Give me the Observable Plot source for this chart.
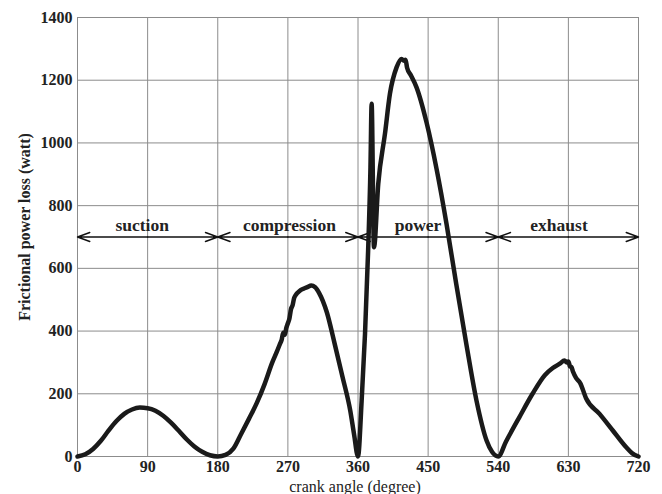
<!DOCTYPE html>
<html>
<head>
<meta charset="utf-8">
<script src="https://cdn.jsdelivr.net/npm/d3@7"></script>
<script src="https://cdn.jsdelivr.net/npm/@observablehq/plot@0.6"></script>
<style>
  html, body { margin: 0; padding: 0; background: #fff; }
</style>
</head>
<body>
<div id="chart"></div>
<script>
// crank angle (degree) and frictional power loss (watt)
const crankAngle = [
  0, 10, 20, 30, 40, 50, 60, 70, 80, 90, 100, 110, 120, 130, 140, 150, 160, 170, 180,
  190, 200, 210, 220, 230, 240, 250, 256, 260, 262, 264, 266, 268, 270, 272, 274, 276, 278, 280, 285, 290, 295, 300, 305, 310, 320, 330, 340, 350, 355, 360,
  364.7, 369, 373, 376, 377.5, 380.5, 386, 394.6, 401, 409.5, 416, 419, 421, 423, 428, 435, 448, 461, 473.6, 486, 499, 512, 525, 532, 540,
  550, 567, 584, 600, 610, 619, 625, 628, 630, 632, 634, 636, 640, 645, 653, 670, 687, 704, 712, 720
];
const powerLoss = [
  0, 7, 24, 50, 83, 113, 136, 150, 156, 154, 146, 130, 108, 82, 55, 32, 15, 4, 0,
  5, 25, 72, 120, 170, 230, 300, 335, 360, 372, 395, 388, 410, 425, 440, 470, 482, 505, 515, 528, 535, 540, 545, 540, 522, 460, 360, 255, 147, 70, 0,
  179, 391, 657, 922, 1125, 667, 870, 1029, 1157, 1241, 1268, 1262, 1265, 1240, 1215, 1178, 1065, 915, 742, 551, 359, 179, 51, 15, 0,
  48, 125, 200, 260, 282, 296, 306, 300, 303, 288, 285, 270, 250, 235, 184, 136, 83, 30, 10, 0
];

// stroke phases
const phaseNames = ["suction", "compression", "power", "exhaust"];
const phaseStart = [0, 180, 360, 540];
const phaseEnd = [180, 360, 540, 720];
const phaseLabelAngle = [83, 272, 437, 618];
const phaseLevel = 700;

// tick labels
const xTicks = [0, 90, 180, 270, 360, 450, 540, 630, 720];
const yTicks = [0, 200, 400, 600, 800, 1000, 1200, 1400];

const curve = crankAngle.map((a, i) => ({angle: a, loss: powerLoss[i]}));
const phases = phaseNames.map((name, i) => ({
  name, start: phaseStart[i], end: phaseEnd[i], labelAt: phaseLabelAngle[i],
  mid: (phaseStart[i] + phaseEnd[i]) / 2, level: phaseLevel
}));

const chart = Plot.plot({
  width: 662,
  height: 494,
  marginLeft: 77,
  marginRight: 24,
  marginTop: 17,
  marginBottom: 38,
  style: {
    fontFamily: "'Liberation Serif', 'DejaVu Serif', serif",
    fontSize: "16px",
    fontWeight: "bold",
    color: "#222",
    background: "#fff"
  },
  x: {domain: [0, 720], ticks: xTicks, label: null},
  y: {domain: [0, 1400], ticks: yTicks, label: null},
  marks: [
    Plot.gridX(xTicks, {stroke: "#8c8c8c", strokeOpacity: 1, strokeWidth: 1}),
    Plot.gridY(yTicks, {stroke: "#8c8c8c", strokeOpacity: 1, strokeWidth: 1}),
    Plot.frame({stroke: "#8c8c8c", strokeWidth: 1}),
    Plot.axisX(xTicks, {tickSize: 0, tickPadding: 4, fontSize: 16, fontWeight: "bold", tickFormat: d => String(d), label: null}),
    Plot.axisY(yTicks, {tickSize: 0, tickPadding: 5, fontSize: 16, fontWeight: "bold", tickFormat: d => String(d), label: null}),
    Plot.arrow(phases, {x1: "mid", y1: "level", x2: "start", y2: "level", stroke: "#111", strokeWidth: 1.4, headLength: 14, headAngle: 40, inset: 0}),
    Plot.arrow(phases, {x1: "mid", y1: "level", x2: "end", y2: "level", stroke: "#111", strokeWidth: 1.4, headLength: 14, headAngle: 40, inset: 0}),
    Plot.text(phases, {x: "labelAt", y: "level", text: "name", dy: -12, fontSize: 17.5, fontWeight: "bold", fill: "#222"}),
    Plot.line(curve, {x: "angle", y: "loss", curve: "monotone-x", stroke: "#1a1a1a", strokeWidth: 4.5, strokeLinejoin: "round", strokeLinecap: "round"}),
    Plot.text(["crank angle (degree)"], {frameAnchor: "bottom", dy: 35, dx: -3, text: d => d, fontSize: 16, fontWeight: "normal", fill: "#222"}),
    Plot.text(["Frictional power loss (watt)"], {frameAnchor: "left", textAnchor: "middle", dx: -53, dy: -10, rotate: -90, text: d => d, fontSize: 16, fontWeight: "bold", fill: "#222"})
  ]
});
document.getElementById("chart").appendChild(chart);
</script>
</body>
</html>
